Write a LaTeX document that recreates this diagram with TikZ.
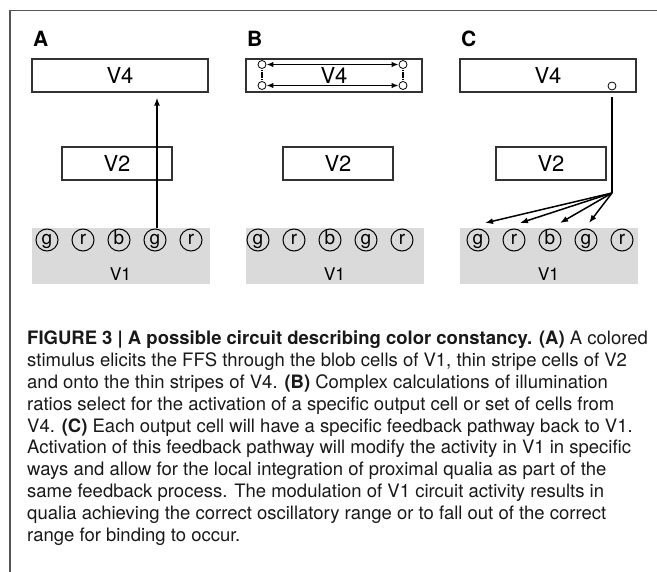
\documentclass[tikz,border=0pt]{standalone}
\usepackage{fontspec}
\setmainfont{TeX Gyre Heros}
\usetikzlibrary{arrows.meta,positioning}
\definecolor{edgecol}{RGB}{50,50,50}
\definecolor{shade}{RGB}{218,218,218}
\definecolor{rulecol}{RGB}{85,85,85}
\definecolor{inkcol}{RGB}{25,25,25}

\begin{document}
\begin{tikzpicture}[x=1pt,y=-1pt,
  area/.style={draw=edgecol,line width=1.3pt,minimum width=176pt,minimum height=33pt,inner sep=0pt,font=\fontsize{22}{22}\selectfont},
  layer/.style={fill=shade,minimum width=178pt,minimum height=56pt,inner sep=0pt},
  cell/.style={circle,draw=black,line width=1pt,minimum size=22pt,inner sep=0pt,font=\fontsize{19}{19}\selectfont},
  port/.style={circle,draw=black,line width=0.8pt,minimum size=8pt,inner sep=0pt},
  tag/.style={font=\fontsize{21}{21}\selectfont\bfseries,inner sep=0pt,anchor=base west},
  feed/.style={line width=1.5pt,-{Latex[length=8pt,width=6pt]}},
  loop/.style={line width=1.5pt,{Latex[length=7pt,width=5.5pt]}-{Latex[length=7pt,width=5.5pt]}}]
\useasboundingbox (0,0) rectangle (657,572);
\draw [rulecol,line width=1.2pt] (10,572) -- (10,10.5) -- (657,10.5);

% three panels: V4, V2 and the V1 row of cells
\foreach \p/\x/\d/\s/\l in {a/120/-3/0/A, b/334/4/-3/B, c/548/3/3/C} {
  \node [tag] (tag\p) at ({\x-87},47) {\l};
  \node [area] (vfour\p) at (\x,75.5) {V4};
  \node [area,minimum width=110pt] (vtwo\p) at ({\x+(\d)},163.5) {V2};
  \node [layer] (vone\p) at ({\x+0.5},256) {};
  \node [font=\fontsize{17.5}{17.5}\selectfont,inner sep=0pt] (lab\p) at ({\x+0.5},274) {V1};
  \foreach \k/\c [count=\i] in {-73/g,-37/r,-1/b,35/g,71/r}
    \node [cell] (\p\i) at ({\x+(\s)+(\k)},240) {\vphantom{bg}\c};
}

% A: feedforward
\draw [feed,shorten >=5pt] ([xshift=2pt]a4.north) -- ([xshift=2pt]a4.north |- vfoura.south);

% B: output cells in V4
\node [port] (pb1) at (262,64.5) {};
\node [port] (pb2) at (403,64.5) {};
\node [port] (pb3) at (262,85.5) {};
\node [port] (pb4) at (403,85.5) {};
\draw [loop] (pb1) -- (pb2);
\draw [loop] (pb3) -- (pb4);
\draw [line width=1.5pt,dash pattern=on 1pt off 1.5pt on 6pt,shorten <=1pt,shorten >=1pt] (pb1) -- (pb3);
\draw [line width=1.5pt,dash pattern=on 1pt off 1.5pt on 6pt,shorten <=1pt,shorten >=1pt] (pb2) -- (pb4);

% C: feedback to V1
\node [port] (pc) at (612,86) {};
\coordinate (hub) at (612,193);
\draw [line width=1.5pt,shorten <=7pt] (pc.south) -- (hub);
\foreach \i/\dx in {1/7,2/6,3/10,4/3}
  \draw [feed] (hub) -- ([shift={(\dx,-17)}]c\i.center);

\node [anchor=north west,inner sep=0pt,align=left,text=inkcol,font=\fontsize{18.5}{21.8}\selectfont] (caption) at (27,331) {%
\textbf{FIGURE 3 | A possible circuit describing color constancy. (A)} A colored\\
stimulus elicits the FFS through the blob cells of V1, thin stripe cells of V2\\
and onto the thin stripes of V4. \textbf{(B)} Complex calculations of illumination\\
ratios select for the activation of a specific output cell or set of cells from\\
V4. \textbf{(C)} Each output cell will have a specific feedback pathway back to V1.\\
Activation of this feedback pathway will modify the activity in V1 in specific\\
ways and allow for the local integration of proximal qualia as part of the\\
same feedback process. The modulation of V1 circuit activity results in\\
qualia achieving the correct oscillatory range or to fall out of the correct\\
range for binding to occur.};
\end{tikzpicture}
\end{document}
